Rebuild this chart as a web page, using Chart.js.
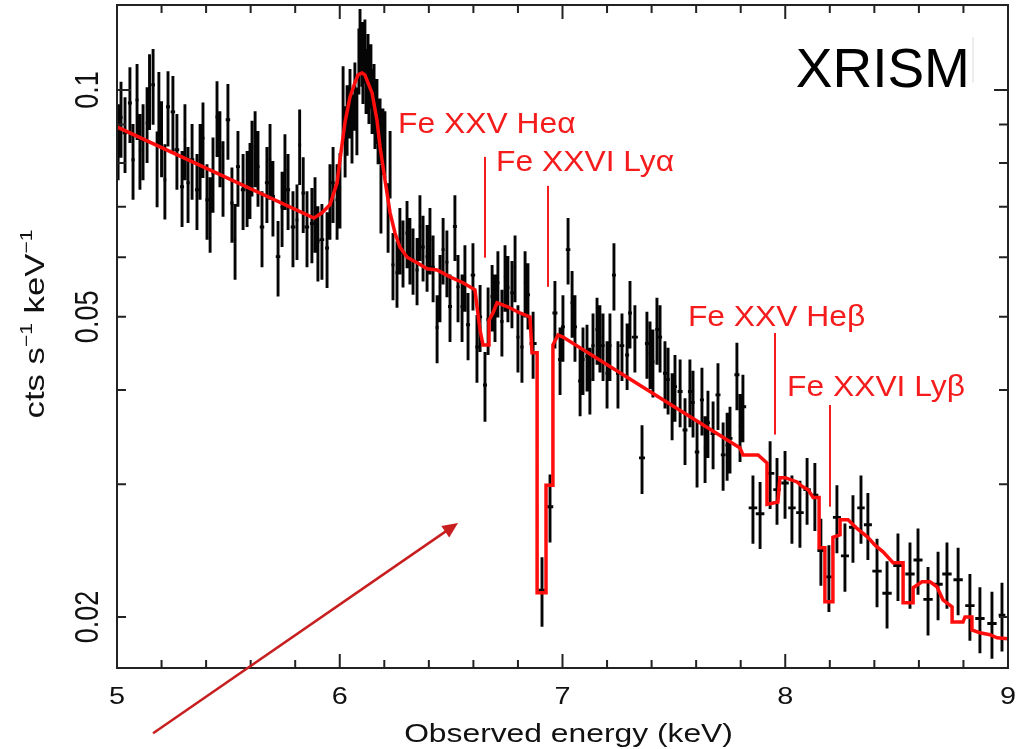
<!DOCTYPE html>
<html>
<head>
<meta charset="utf-8">
<script src="https://cdn.jsdelivr.net/npm/chart.js@4.4.1/dist/chart.umd.min.js"></script>
<style>
  html, body { margin: 0; padding: 0; background: #fff; }
  #caja { width: 1021px; height: 749px; position: relative; }
</style>
</head>
<body>
<div id="caja"><canvas id="espectro"></canvas></div>
<script>
// datos del espectro: energia del bin (keV), cuentas y error
const energia = [
  5.005, 5.018, 5.036, 5.058, 5.072, 5.090, 5.103, 5.117, 5.135, 5.146,
  5.162, 5.180, 5.188, 5.200, 5.215, 5.229, 5.251, 5.269, 5.292, 5.305,
  5.319, 5.337, 5.359, 5.373, 5.386, 5.404, 5.418, 5.431, 5.449, 5.462,
  5.476, 5.498, 5.516, 5.530, 5.543, 5.566, 5.584, 5.597, 5.606, 5.620,
  5.633, 5.651, 5.673, 5.687, 5.700, 5.723, 5.741, 5.754, 5.768, 5.790,
  5.808, 5.820, 5.836, 5.853, 5.875, 5.889, 5.902, 5.920, 5.943, 5.956,
  5.970, 5.988, 6.001,
  6.015, 6.024, 6.033, 6.046, 6.055, 6.068, 6.077, 6.086, 6.091, 6.100,
  6.104, 6.113, 6.118, 6.127, 6.131, 6.140, 6.145, 6.154, 6.158, 6.167,
  6.172, 6.181, 6.185, 6.194, 6.203, 6.217, 6.226,
  6.239, 6.257, 6.270, 6.284, 6.302, 6.315, 6.329, 6.347, 6.360, 6.374,
  6.392, 6.405, 6.419, 6.437, 6.450, 6.464, 6.481, 6.495, 6.517, 6.531,
  6.549, 6.562, 6.576, 6.598, 6.616, 6.630, 6.652, 6.666, 6.684, 6.697,
  6.710, 6.728, 6.742, 6.755, 6.773, 6.787, 6.800, 6.818, 6.832, 6.845,
  6.868, 6.908, 6.944,
  6.966, 6.989, 7.002, 7.025, 7.043, 7.056, 7.079, 7.092, 7.110, 7.123,
  7.137, 7.155, 7.168, 7.182, 7.200, 7.213, 7.231, 7.249, 7.267, 7.290,
  7.303, 7.325, 7.357, 7.379, 7.393, 7.406, 7.424, 7.438, 7.460, 7.474,
  7.492, 7.505, 7.528, 7.550, 7.572, 7.586, 7.604, 7.626, 7.640, 7.653,
  7.676, 7.698, 7.721, 7.739, 7.752, 7.783, 7.797, 7.810,
  7.855, 7.887, 7.932, 7.963, 7.999, 8.030, 8.066, 8.098, 8.133, 8.160,
  8.196, 8.232, 8.268, 8.304, 8.340, 8.371, 8.412, 8.457, 8.506, 8.560,
  8.596, 8.641, 8.686, 8.726, 8.776, 8.829, 8.874, 8.928, 8.973
];

const cuentas = [
  0.0858, 0.0919, 0.0877, 0.0961, 0.0808, 0.0970, 0.0833, 0.0858, 0.0904, 0.1000,
  0.1016, 0.0790, 0.0947, 0.0866, 0.0760, 0.0950, 0.0935, 0.0833, 0.0744, 0.0858,
  0.0753, 0.0808, 0.0737, 0.0808, 0.0863, 0.0715, 0.0687, 0.0776, 0.0921, 0.0840,
  0.0767, 0.0913, 0.0708, 0.0633, 0.0791, 0.0737, 0.0744, 0.0762, 0.0816, 0.0840,
  0.0791, 0.0658, 0.0753, 0.0808, 0.0722, 0.0601, 0.0699, 0.0783, 0.0737, 0.0658,
  0.0672, 0.0845, 0.0730, 0.0658, 0.0665, 0.0687, 0.0629, 0.0633, 0.0617, 0.0715,
  0.0753, 0.0715, 0.0740,
  0.0970, 0.0858, 0.0916, 0.0964, 0.0893, 0.0985, 0.0913, 0.1096, 0.1165, 0.1120,
  0.1063, 0.1130, 0.1031, 0.1080, 0.1000, 0.1047, 0.0970, 0.0985, 0.0927, 0.0941,
  0.0885, 0.0885, 0.0720, 0.0858, 0.0850, 0.0680, 0.0800,
  0.0586, 0.0572, 0.0633, 0.0609, 0.0646, 0.0614, 0.0595, 0.0577, 0.0659, 0.0619,
  0.0601, 0.0633, 0.0582, 0.0484, 0.0548, 0.0614, 0.0591, 0.0516, 0.0659, 0.0548,
  0.0516, 0.0565, 0.0488, 0.0568, 0.0456, 0.0500, 0.0406, 0.0496, 0.0532, 0.0516,
  0.0555, 0.0493, 0.0565, 0.0547, 0.0538, 0.0582, 0.0470, 0.0456, 0.0555, 0.0535,
  0.0461, 0.0217, 0.0280,
  0.0506, 0.0439, 0.0485, 0.0614, 0.0522, 0.0485, 0.0411, 0.0439, 0.0443, 0.0413,
  0.0458, 0.0481, 0.0470, 0.0458, 0.0421, 0.0458, 0.0568, 0.0421, 0.0458, 0.0445,
  0.0506, 0.0470, 0.0325, 0.0461, 0.0447, 0.0436, 0.0481, 0.0470, 0.0421, 0.0413,
  0.0382, 0.0404, 0.0398, 0.0354, 0.0398, 0.0385, 0.0331, 0.0388, 0.0335, 0.0362,
  0.0350, 0.0394, 0.0328, 0.0338, 0.0345, 0.0419, 0.0358, 0.0380,
  0.0279, 0.0274, 0.0310, 0.0295, 0.0301, 0.0279, 0.0275, 0.0295, 0.0290, 0.0245,
  0.0226, 0.0271, 0.0241, 0.0263, 0.0279, 0.0265, 0.0230, 0.0215, 0.0234, 0.0228,
  0.0238, 0.0211, 0.0221, 0.0228, 0.0224, 0.0207, 0.0199, 0.0196, 0.0201
];

const errores = [
  0.0099, 0.0106, 0.0101, 0.0111, 0.0093, 0.0112, 0.0096, 0.0099, 0.0104, 0.0115,
  0.0117, 0.0091, 0.0109, 0.0100, 0.0087, 0.0109, 0.0108, 0.0096, 0.0086, 0.0099,
  0.0087, 0.0093, 0.0085, 0.0093, 0.0099, 0.0082, 0.0079, 0.0089, 0.0106, 0.0097,
  0.0088, 0.0105, 0.0081, 0.0073, 0.0091, 0.0085, 0.0086, 0.0088, 0.0094, 0.0097,
  0.0091, 0.0076, 0.0087, 0.0093, 0.0083, 0.0069, 0.0080, 0.0090, 0.0085, 0.0076,
  0.0077, 0.0097, 0.0084, 0.0076, 0.0076, 0.0079, 0.0072, 0.0073, 0.0071, 0.0082,
  0.0087, 0.0082, 0.0085,
  0.0105, 0.0093, 0.0098, 0.0102, 0.0094, 0.0102, 0.0094, 0.0110, 0.0115, 0.0110,
  0.0105, 0.0110, 0.0102, 0.0106, 0.0099, 0.0103, 0.0096, 0.0097, 0.0092, 0.0093,
  0.0088, 0.0089, 0.0075, 0.0087, 0.0087, 0.0072, 0.0082,
  0.0060, 0.0058, 0.0064, 0.0062, 0.0066, 0.0062, 0.0060, 0.0059, 0.0066, 0.0062,
  0.0061, 0.0064, 0.0059, 0.0050, 0.0056, 0.0062, 0.0060, 0.0053, 0.0066, 0.0056,
  0.0053, 0.0057, 0.0050, 0.0058, 0.0047, 0.0051, 0.0043, 0.0051, 0.0054, 0.0053,
  0.0056, 0.0050, 0.0057, 0.0055, 0.0055, 0.0059, 0.0048, 0.0047, 0.0056, 0.0054,
  0.0047, 0.0023, 0.0029,
  0.0052, 0.0045, 0.0049, 0.0062, 0.0053, 0.0049, 0.0042, 0.0045, 0.0045, 0.0042,
  0.0047, 0.0049, 0.0048, 0.0047, 0.0043, 0.0047, 0.0058, 0.0043, 0.0047, 0.0045,
  0.0052, 0.0048, 0.0034, 0.0047, 0.0046, 0.0045, 0.0049, 0.0048, 0.0043, 0.0042,
  0.0039, 0.0041, 0.0041, 0.0036, 0.0041, 0.0039, 0.0034, 0.0040, 0.0034, 0.0037,
  0.0036, 0.0040, 0.0034, 0.0035, 0.0035, 0.0043, 0.0037, 0.0039,
  0.0029, 0.0028, 0.0032, 0.0030, 0.0031, 0.0029, 0.0028, 0.0030, 0.0030, 0.0025,
  0.0023, 0.0028, 0.0025, 0.0027, 0.0029, 0.0027, 0.0024, 0.0022, 0.0024, 0.0023,
  0.0024, 0.0022, 0.0023, 0.0023, 0.0023, 0.0021, 0.0020, 0.0020, 0.0021
];

// modelo (linea roja escalonada), vertices en keV / cuentas
const modeloE = [
  5.000, 5.884, 5.920, 5.956, 5.988, 6.001, 6.024, 6.046, 6.068, 6.082,
  6.100, 6.113, 6.127, 6.145, 6.167, 6.181, 6.203, 6.226, 6.248, 6.270,
  6.302, 6.347, 6.392, 6.437, 6.495, 6.553, 6.607, 6.616, 6.630, 6.643,
  6.666, 6.670, 6.688, 6.706, 6.751, 6.809, 6.854, 6.863, 6.886, 6.886,
  6.926, 6.926, 6.957, 6.957, 6.980, 7.002, 7.797, 7.810, 7.878, 7.918,
  7.918, 7.967, 7.976, 7.999, 8.053, 8.075, 8.102, 8.125, 8.152, 8.152,
  8.178, 8.178, 8.214, 8.214, 8.246, 8.246, 8.282, 8.322, 8.371, 8.403,
  8.439, 8.484, 8.529, 8.529, 8.574, 8.574, 8.614, 8.650, 8.681, 8.708,
  8.749, 8.749, 8.798, 8.807, 8.838, 8.838, 8.874, 8.919, 8.951, 9.000
];
const modeloF = [
  0.0893, 0.0676, 0.0687, 0.0704, 0.0753, 0.0808, 0.0907, 0.0979, 0.1022, 0.1047,
  0.1053, 0.1047, 0.1022, 0.0991, 0.0912, 0.0840, 0.0760, 0.0687, 0.0646, 0.0619,
  0.0600, 0.0590, 0.0579, 0.0577, 0.0565, 0.0555, 0.0543, 0.0516, 0.0480, 0.0459,
  0.0459, 0.0495, 0.0506, 0.0522, 0.0516, 0.0506, 0.0500, 0.0448, 0.0448, 0.02153,
  0.02153, 0.0299, 0.0299, 0.0459, 0.0473, 0.0470, 0.0335, 0.0328, 0.0328, 0.0320,
  0.0282, 0.0284, 0.0306, 0.0306, 0.0302, 0.0298, 0.0295, 0.0288, 0.0288, 0.0247,
  0.0247, 0.02094, 0.02094, 0.0255, 0.0257, 0.0269, 0.0269, 0.0262, 0.0255, 0.0249,
  0.0244, 0.0236, 0.0236, 0.02088, 0.02088, 0.02186, 0.02226, 0.02226, 0.02193, 0.02107,
  0.02062, 0.01969, 0.01969, 0.02000, 0.02000, 0.01922, 0.01905, 0.01894, 0.01876, 0.01871
];

// etiquetas de los ejes
const ticksX = [5, 6, 7, 8, 9];
const ticksY = [0.02, 0.05, 0.1];

// lineas de hierro marcadas
const lineasFe = [
  { nombre: 'Fe XXV Heα',  e: 6.652, desde: 0.0815, hasta: 0.0599, textoE: 6.262, textoY: 0.0876 },
  { nombre: 'Fe XXVI Lyα', e: 6.935, desde: 0.0746, hasta: 0.0548, textoE: 6.702, textoY: 0.0780 },
  { nombre: 'Fe XXV Heβ',  e: 7.954, desde: 0.0476, hasta: 0.0349, textoE: 7.563, textoY: 0.04864 },
  { nombre: 'Fe XXVI Lyβ', e: 8.201, desde: 0.0382, hasta: 0.0280, textoE: 8.008, textoY: 0.03923 }
];

const FUENTE = '"Liberation Sans", Arial, Helvetica, sans-serif';
const ROJO = '#f41c1c';

function escribir(ctx, txt, px, py, o) {
  ctx.save();
  ctx.translate(px, py);
  ctx.scale(o.sx || 1, 1);
  if (o.rot) ctx.rotate(o.rot);
  ctx.font = o.size + 'px ' + FUENTE;
  ctx.textAlign = o.align || 'left';
  ctx.textBaseline = 'alphabetic';
  ctx.fillStyle = o.color || '#111';
  ctx.fillText(txt, 0, 0);
  ctx.restore();
}

// titulo del eje y con superindices, rotado y algo estirado a lo largo
function tituloY(ctx, cx, cy) {
  const partes = [['cts s', 28, 0], ['\u22121', 17, -12], [' keV', 28, 0], ['\u22121', 17, -12]];
  let total = 0;
  partes.forEach(p => { ctx.font = p[1] + 'px ' + FUENTE; total += ctx.measureText(p[0]).width; });
  ctx.save();
  ctx.translate(cx, cy);
  ctx.rotate(-Math.PI / 2);
  ctx.scale(1.24, 1);
  ctx.fillStyle = '#111';
  ctx.textBaseline = 'alphabetic';
  let pos = -total / 2;
  partes.forEach(p => {
    ctx.font = p[1] + 'px ' + FUENTE;
    ctx.fillText(p[0], pos, p[2]);
    pos += ctx.measureText(p[0]).width;
  });
  ctx.restore();
}

// barras de error (van debajo del modelo)
const barras = {
  id: 'barras',
  beforeDatasetsDraw(chart) {
    const { ctx, chartArea: a, scales: { x, y } } = chart;
    const puntos = chart.data.datasets[0].data;
    ctx.save();
    ctx.beginPath();
    ctx.rect(a.left, a.top, a.right - a.left, a.bottom - a.top);
    ctx.clip();
    ctx.strokeStyle = '#050505';
    ctx.lineWidth = 2.9;
    ctx.beginPath();
    puntos.forEach((p, i) => {
      const ant = i > 0 ? puntos[i - 1].x : p.x - 0.015;
      const sig = i < puntos.length - 1 ? puntos[i + 1].x : p.x + 0.015;
      const semi = Math.min((sig - ant) / 4, 0.021);
      const px = x.getPixelForValue(p.x);
      const py = y.getPixelForValue(p.y);
      ctx.moveTo(px, y.getPixelForValue(p.y + p.err));
      ctx.lineTo(px, y.getPixelForValue(p.y - p.err));
      ctx.moveTo(x.getPixelForValue(p.x - semi), py);
      ctx.lineTo(x.getPixelForValue(p.x + semi), py);
    });
    ctx.stroke();
    ctx.restore();
  },
  afterDatasetsDraw(chart) {
    const { ctx, chartArea: a, scales: { x, y } } = chart;
    ctx.save();

    // marco
    ctx.strokeStyle = '#222';
    ctx.lineWidth = 2;
    ctx.strokeRect(a.left, a.top, a.right - a.left, a.bottom - a.top);

    // ticks hacia adentro
    ctx.beginPath();
    for (let k = 0; k <= 20; k++) {
      const px = x.getPixelForValue(5 + k * 0.2);
      const largo = k % 5 === 0 ? 14 : 8;
      ctx.moveTo(px, a.bottom); ctx.lineTo(px, a.bottom - largo);
      ctx.moveTo(px, a.top); ctx.lineTo(px, a.top + largo);
    }
    for (let m = 2; m <= 10; m++) {
      const py = y.getPixelForValue(m / 100);
      const largo = m === 10 ? 14 : 9;
      ctx.moveTo(a.left, py); ctx.lineTo(a.left + largo, py);
      ctx.moveTo(a.right, py); ctx.lineTo(a.right - largo, py);
    }
    ctx.stroke();

    // numeros de los ejes
    ticksX.forEach(t => escribir(ctx, String(t), x.getPixelForValue(t), a.bottom + 36, { size: 24, sx: 1.2, align: 'center' }));
    ticksY.forEach(t => escribir(ctx, String(t), a.left - 19, y.getPixelForValue(t), { size: 27, sx: 1.2, rot: -Math.PI / 2, align: 'center' }));

    // titulos
    escribir(ctx, 'Observed energy (keV)', (a.left + a.right) / 2 + 6, a.bottom + 74, { size: 26.5, sx: 1.2, align: 'center' });
    tituloY(ctx, 44, 324);

    // lineas de Fe y sus nombres
    ctx.strokeStyle = ROJO;
    ctx.lineWidth = 2;
    lineasFe.forEach(l => {
      const px = x.getPixelForValue(l.e);
      ctx.beginPath();
      ctx.moveTo(px, y.getPixelForValue(l.desde));
      ctx.lineTo(px, y.getPixelForValue(l.hasta));
      ctx.stroke();
      escribir(ctx, l.nombre, x.getPixelForValue(l.textoE), y.getPixelForValue(l.textoY), { size: 30, sx: 1.06, color: ROJO });
    });

    // XRISM
    escribir(ctx, 'XRISM', x.getPixelForValue(8.829), y.getPixelForValue(0.1009), { size: 55, align: 'right', color: '#000' });
    ctx.strokeStyle = '#dcdcdc';
    ctx.lineWidth = 1;
    ctx.beginPath();
    ctx.moveTo(x.getPixelForValue(8.843), y.getPixelForValue(0.1176));
    ctx.lineTo(x.getPixelForValue(8.843), y.getPixelForValue(0.1022));
    ctx.stroke();

    // flecha
    const ini = { x: x.getPixelForValue(5.162), y: y.getPixelForValue(0.01402) };
    const fin = { x: x.getPixelForValue(6.531), y: y.getPixelForValue(0.02665) };
    const ang = Math.atan2(fin.y - ini.y, fin.x - ini.x);
    const cab = 17;
    ctx.strokeStyle = '#c71f1f';
    ctx.fillStyle = '#c71f1f';
    ctx.lineWidth = 2.5;
    ctx.beginPath();
    ctx.moveTo(ini.x, ini.y);
    ctx.lineTo(fin.x - cab * 0.8 * Math.cos(ang), fin.y - cab * 0.8 * Math.sin(ang));
    ctx.stroke();
    ctx.beginPath();
    ctx.moveTo(fin.x, fin.y);
    ctx.lineTo(fin.x - cab * Math.cos(ang - 0.42), fin.y - cab * Math.sin(ang - 0.42));
    ctx.lineTo(fin.x - cab * Math.cos(ang + 0.42), fin.y - cab * Math.sin(ang + 0.42));
    ctx.closePath();
    ctx.fill();

    ctx.restore();
  }
};

const ctx = document.getElementById('espectro').getContext('2d');
const grafico = new Chart(ctx, {
  type: 'scatter',
  data: {
    datasets: [
      {
        label: 'datos',
        data: energia.map((e, i) => ({ x: e, y: cuentas[i], err: errores[i] })),
        pointRadius: 0,
        pointHoverRadius: 0
      },
      {
        label: 'modelo',
        data: modeloE.map((e, i) => ({ x: e, y: modeloF[i] })),
        showLine: true,
        borderColor: '#ff0d0d',
        borderWidth: 3.5,
        pointRadius: 0,
        tension: 0,
        fill: false
      }
    ]
  },
  options: {
    responsive: true,
    maintainAspectRatio: false,
    animation: false,
    layout: { padding: { left: 117, right: 13, top: 5, bottom: 81 } },
    scales: {
      x: { type: 'linear', min: 5, max: 9, display: false },
      y: { type: 'logarithmic', min: 0.01711, max: 0.1296, display: false }
    },
    plugins: {
      legend: { display: false },
      tooltip: { enabled: false }
    }
  },
  plugins: [barras]
});
</script>
</body>
</html>
